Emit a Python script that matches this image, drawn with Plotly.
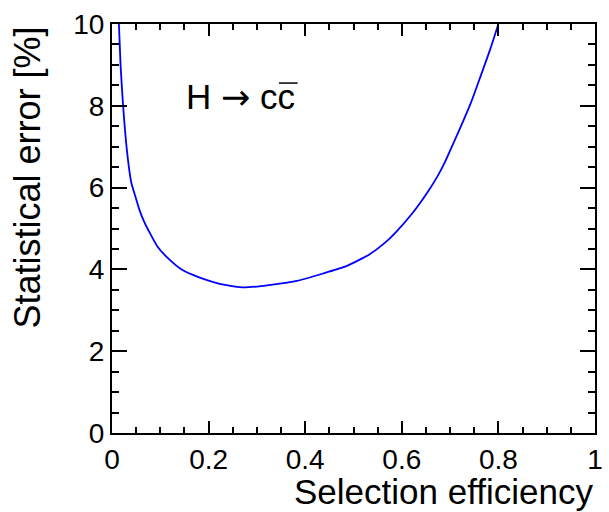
import plotly.graph_objects as go

# Data (selection efficiency vs statistical error in %)
efficiency = [0.0143, 0.0177, 0.023, 0.031, 0.040, 0.048, 0.057, 0.066, 0.077, 0.094,
              0.118, 0.145, 0.179, 0.210, 0.234, 0.271, 0.300, 0.329, 0.383, 0.437,
              0.485, 0.532, 0.566, 0.587, 0.621, 0.654, 0.675, 0.688, 0.699, 0.712,
              0.728, 0.743, 0.763, 0.783, 0.800]
stat_error = [10.0, 9.0, 8.0, 6.9, 6.12, 5.80, 5.45, 5.18, 4.92, 4.56,
              4.25, 3.99, 3.81, 3.69, 3.62, 3.56, 3.58, 3.62, 3.72, 3.90,
              4.08, 4.36, 4.66, 4.90, 5.36, 5.90, 6.30, 6.59, 6.88, 7.22,
              7.65, 8.07, 8.72, 9.38, 10.0]

x_ticks = [0, 0.2, 0.4, 0.6, 0.8, 1]
x_ticklabels = ["0", "0.2", "0.4", "0.6", "0.8", "1"]
y_ticks = [0, 2, 4, 6, 8, 10]
y_ticklabels = ["0", "2", "4", "6", "8", "10"]

FONT = "Liberation Sans, Arial, Helvetica, sans-serif"

fig = go.Figure()
fig.add_trace(go.Scatter(x=efficiency, y=stat_error, mode="lines",
                         line=dict(color="#0000ff", width=1.8, shape="spline", smoothing=0.5),
                         showlegend=False))

axis_common = dict(showgrid=False, zeroline=False, showline=True, linecolor="black",
                   linewidth=2, mirror="ticks", ticks="inside", tickcolor="black",
                   tickwidth=2, tickfont=dict(family=FONT, size=28, color="black"))

fig.update_xaxes(range=[0, 1], tickvals=x_ticks, ticktext=x_ticklabels, ticklen=12,
                 minor=dict(dtick=0.05, ticks="inside", ticklen=6, tickwidth=2, tickcolor="black"),
                 **axis_common)
fig.update_yaxes(range=[0, 10], tickvals=y_ticks, ticktext=y_ticklabels, ticklen=15,
                 minor=dict(dtick=0.5, ticks="inside", ticklen=7, tickwidth=2, tickcolor="black"),
                 **axis_common)

fig.add_annotation(text="Selection efficiency", xref="paper", yref="paper",
                   x=1, y=-0.143, xanchor="right", yanchor="middle", showarrow=False,
                   font=dict(family=FONT, size=35, color="black"))
fig.add_annotation(text="Statistical error [%]", xref="paper", yref="paper",
                   x=-0.175, y=1, xanchor="center", yanchor="top", textangle=-90,
                   showarrow=False, font=dict(family=FONT, size=36, color="black"))
fig.add_annotation(text="H <span style=\"font-family:'DejaVu Sans'\">\u2192</span> cc",
                   xref="paper", yref="paper",
                   x=0.150, y=0.8215, xanchor="left", yanchor="middle", showarrow=False,
                   font=dict(family=FONT, size=35, color="black"))
fig.add_shape(type="line", xref="paper", yref="paper", x0=0.3456, x1=0.3843,
              y0=0.8556, y1=0.8556, line=dict(color="black", width=1.5))

fig.update_layout(width=609, height=512, margin=dict(l=112, r=6, t=23.5, b=78.5),
                  paper_bgcolor="white", plot_bgcolor="white",
                  font=dict(family=FONT, color="black"))

fig.write_html("out.html")
